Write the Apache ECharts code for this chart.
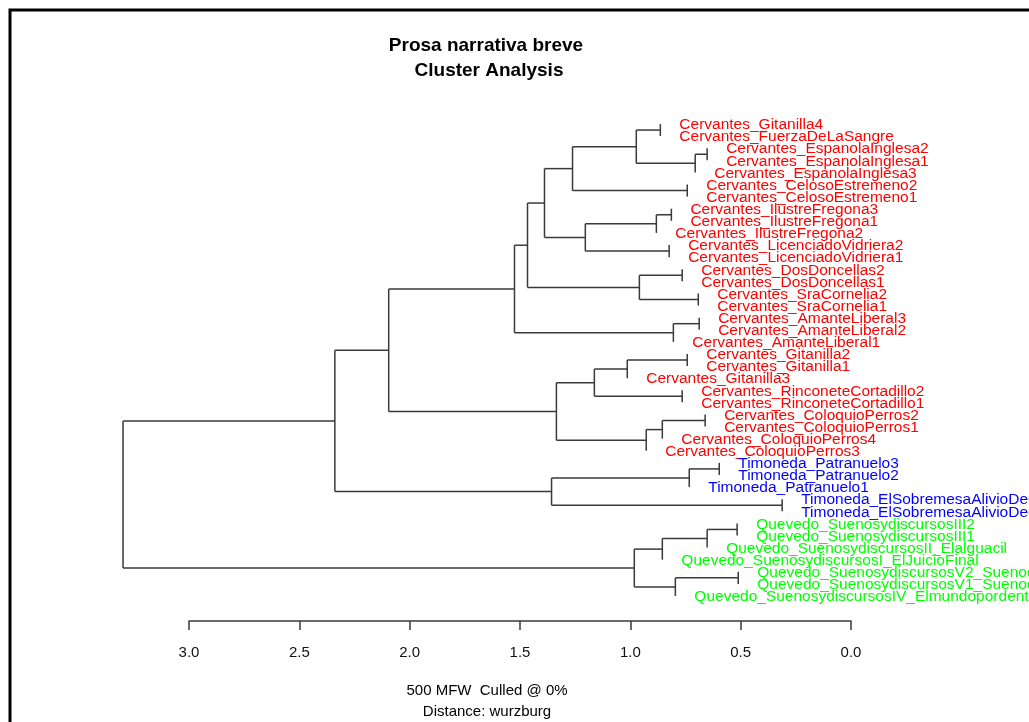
<!DOCTYPE html>
<html><head><meta charset="utf-8">
<script src="https://cdn.jsdelivr.net/npm/echarts@6/dist/echarts.min.js"></script>
<style>html,body{margin:0;padding:0;background:#fff}#chart{width:1029px;height:722px}</style>
</head><body><div id="chart"></div>
<script>
// Leaf labels, top to bottom
const leafLabels = [
  'Cervantes_Gitanilla4','Cervantes_FuerzaDeLaSangre','Cervantes_EspanolaInglesa2','Cervantes_EspanolaInglesa1',
  'Cervantes_EspanolaInglesa3','Cervantes_CelosoEstremeno2','Cervantes_CelosoEstremeno1','Cervantes_IlustreFregona3',
  'Cervantes_IlustreFregona1','Cervantes_IlustreFregona2','Cervantes_LicenciadoVidriera2','Cervantes_LicenciadoVidriera1',
  'Cervantes_DosDoncellas2','Cervantes_DosDoncellas1','Cervantes_SraCornelia2','Cervantes_SraCornelia1',
  'Cervantes_AmanteLiberal3','Cervantes_AmanteLiberal2','Cervantes_AmanteLiberal1','Cervantes_Gitanilla2',
  'Cervantes_Gitanilla1','Cervantes_Gitanilla3','Cervantes_RinconeteCortadillo2','Cervantes_RinconeteCortadillo1',
  'Cervantes_ColoquioPerros2','Cervantes_ColoquioPerros1','Cervantes_ColoquioPerros4','Cervantes_ColoquioPerros3',
  'Timoneda_Patranuelo3','Timoneda_Patranuelo2','Timoneda_Patranuelo1',
  'Timoneda_ElSobremesaAlivioDeCaminantes2','Timoneda_ElSobremesaAlivioDeCaminantes1',
  'Quevedo_SuenosydiscursosIII2','Quevedo_SuenosydiscursosIII1','Quevedo_SuenosydiscursosII_Elalguacil',
  'Quevedo_SuenosydiscursosI_ElJuicioFinal','Quevedo_SuenosydiscursosV2_SuenodelaMuerte',
  'Quevedo_SuenosydiscursosV1_SuenodelaMuerte','Quevedo_SuenosydiscursosIV_Elmundopordentro'
];
// hclust-like merges: negative = leaf (-(index+1)), positive = earlier merge row (1-based)
const mergePairs = [
  [-1,-2],[-3,-4],[2,-5],[1,3],[-6,-7],[4,5],[-8,-9],[7,-10],[-11,-12],[8,9],
  [6,10],[-13,-14],[-15,-16],[12,13],[11,14],[-17,-18],[16,-19],[15,17],[-20,-21],[19,-22],
  [-23,-24],[20,21],[-25,-26],[23,-27],[24,-28],[22,25],[18,26],[-29,-30],[28,-31],[-32,-33],
  [29,30],[27,31],[-34,-35],[33,-36],[34,-37],[-38,-39],[36,-40],[35,37],[32,38]
];
const mergeHeights = [
  0.864,0.652,0.706,0.973,0.742,1.262,0.814,0.882,0.824,1.204,
  1.389,0.765,0.692,0.959,1.466,0.688,0.805,1.525,0.742,1.014,
  0.765,1.163,0.661,0.855,0.928,1.335,2.095,0.597,0.733,0.312,
  1.357,2.339,0.516,0.652,0.855,0.511,0.796,0.982,3.299
];
const tickValues = [0, 0.5, 1, 1.5, 2, 2.5, 3];
const groupColors = { Cervantes: '#FF0000', Timoneda: '#0000FF', Quevedo: '#00FF00' };
const titleLines = ['Prosa narrativa breve', 'Cluster Analysis'];
const footLines = ['500 MFW  Culled @ 0%', 'Distance: wurzburg'];

// build tree geometry in data units
const leafHeight = new Array(leafLabels.length).fill(0);
const nodeY = [];
const segments = [];
function childY(c) { return c < 0 ? (-c - 1) : nodeY[c - 1]; }
mergePairs.forEach((pair, k) => {
  const h = mergeHeights[k];
  const ya = childY(pair[0]), yb = childY(pair[1]);
  nodeY[k] = (ya + yb) / 2;
  segments.push([h, ya, h, yb]);
  pair.forEach(c => {
    if (c < 0) { leafHeight[-c - 1] = h; }
    else { segments.push([h, nodeY[c - 1], mergeHeights[c - 1], nodeY[c - 1]]); }
  });
});
const labelData = leafLabels.map((name, i) => [leafHeight[i], i]);

const chart = echarts.init(document.getElementById('chart'), null, { renderer: 'canvas' });
const FONT = '"Liberation Sans", Arial, Helvetica, sans-serif';
chart.setOption({
  backgroundColor: '#ffffff',
  animation: false,
  grid: { left: 189, right: 178, top: 124, bottom: 126 },
  xAxis: {
    type: 'value', inverse: true, min: 0, max: 3, interval: 0.5, offset: 25, position: 'bottom',
    axisLine: { show: true, onZero: false, lineStyle: { color: '#3a3a3a', width: 1.5 } },
    axisTick: { show: true, length: 9, lineStyle: { color: '#3a3a3a', width: 1.5 }, customValues: tickValues },
    axisLabel: { color: '#111', fontSize: 15, fontFamily: FONT, margin: 24, customValues: tickValues,
      formatter: v => v.toFixed(1) },
    splitLine: { show: false }
  },
  yAxis: { type: 'value', inverse: true, min: 0, max: leafLabels.length - 1, show: false },
  graphic: [
    { type: 'rect', shape: { x: 10, y: 10, width: 1060, height: 760 }, style: { fill: 'none', stroke: '#000', lineWidth: 3 }, silent: true },
    { type: 'text', x: 486, y: 46, style: { text: titleLines[0], fill: '#000', font: 'bold 19px ' + FONT, align: 'center', verticalAlign: 'middle' } },
    { type: 'text', x: 489, y: 71, style: { text: titleLines[1], fill: '#000', font: 'bold 19px ' + FONT, align: 'center', verticalAlign: 'middle' } },
    { type: 'text', x: 487, y: 691, style: { text: footLines[0], fill: '#000', font: '15px ' + FONT, align: 'center', verticalAlign: 'middle' } },
    { type: 'text', x: 487, y: 712, style: { text: footLines[1], fill: '#000', font: '15px ' + FONT, align: 'center', verticalAlign: 'middle' } }
  ],
  series: [
    {
      type: 'custom', clip: false, silent: true,
      data: segments,
      encode: { x: [0, 2], y: [1, 3] },
      renderItem: (params, api) => {
        const p1 = api.coord([api.value(0), api.value(1)]);
        const p2 = api.coord([api.value(2), api.value(3)]);
        return { type: 'line', shape: { x1: p1[0], y1: p1[1], x2: p2[0], y2: p2[1] },
          style: { stroke: '#3a3a3a', lineWidth: 1.5 } };
      }
    },
    {
      type: 'custom', clip: false, silent: true,
      data: labelData,
      encode: { x: 0, y: 1 },
      renderItem: (params, api) => {
        const i = params.dataIndex;
        const p = api.coord([api.value(0), api.value(1)]);
        const name = leafLabels[i];
        const color = groupColors[name.split('_')[0]];
        return { type: 'text', x: p[0] + 19, y: p[1] + 1,
          style: { text: name, fill: color, font: '15.5px ' + FONT, align: 'left', verticalAlign: 'middle' } };
      }
    }
  ]
});
</script>
</body></html>
